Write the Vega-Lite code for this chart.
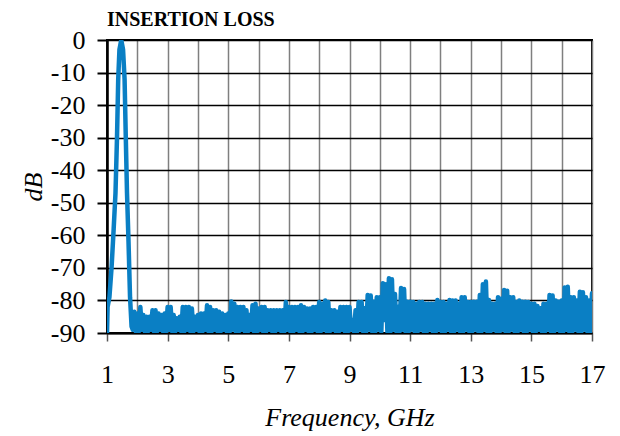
{
  "$schema": "https://vega.github.io/schema/vega-lite/v6.json",
  "width": 485,
  "height": 293,
  "autosize": "none",
  "padding": {"left": 107, "top": 40, "right": 28, "bottom": 103},
  "background": "white",
  "title": {
    "text": "INSERTION LOSS",
    "font": "Liberation Serif",
    "fontSize": 20,
    "fontWeight": "bold",
    "color": "black",
    "anchor": "start",
    "frame": "group",
    "offset": -3
  },
  "config": {
    "view": {"stroke": "black", "strokeWidth": 2},
    "axis": {
      "labelFont": "Liberation Serif",
      "titleFont": "Liberation Serif",
      "labelColor": "black",
      "titleColor": "black",
      "labelFontSize": 26,
      "titleFontSize": 26,
      "titleFontStyle": "italic",
      "titleFontWeight": "normal"
    }
  },
  "data": {
    "values": [
      {"f": 1.0, "v": -90}, {"f": 1.02, "v": -82}, {"f": 1.08, "v": -79}, {"f": 1.15, "v": -70},
      {"f": 1.22, "v": -58}, {"f": 1.28, "v": -47}, {"f": 1.33, "v": -30}, {"f": 1.37, "v": -12},
      {"f": 1.41, "v": -3}, {"f": 1.47, "v": 0}, {"f": 1.53, "v": -3}, {"f": 1.58, "v": -12},
      {"f": 1.62, "v": -30}, {"f": 1.66, "v": -47}, {"f": 1.71, "v": -62}, {"f": 1.76, "v": -79},
      {"f": 1.81, "v": -88},
      {"f": 1.85, "v": -89}, {"f": 1.9, "v": -83.5}, {"f": 1.95, "v": -89.5}, {"f": 2.0, "v": -84},
      {"f": 2.05, "v": -89.5}, {"f": 2.1, "v": -82}, {"f": 2.15, "v": -89}, {"f": 2.2, "v": -84.5},
      {"f": 2.25, "v": -89.5}, {"f": 2.3, "v": -85}, {"f": 2.35, "v": -89.5}, {"f": 2.4, "v": -85},
      {"f": 2.45, "v": -89}, {"f": 2.5, "v": -83}, {"f": 2.55, "v": -89.5}, {"f": 2.6, "v": -83},
      {"f": 2.65, "v": -89.5}, {"f": 2.7, "v": -84}, {"f": 2.75, "v": -89}, {"f": 2.8, "v": -84.5},
      {"f": 2.85, "v": -89.5}, {"f": 2.9, "v": -84}, {"f": 2.95, "v": -89.5}, {"f": 3.0, "v": -82},
      {"f": 3.05, "v": -89}, {"f": 3.1, "v": -82}, {"f": 3.15, "v": -89.5}, {"f": 3.2, "v": -84.5},
      {"f": 3.25, "v": -89.5}, {"f": 3.3, "v": -85.5}, {"f": 3.35, "v": -89}, {"f": 3.4, "v": -85},
      {"f": 3.45, "v": -89.5}, {"f": 3.5, "v": -82}, {"f": 3.55, "v": -89.5}, {"f": 3.6, "v": -82},
      {"f": 3.65, "v": -89}, {"f": 3.7, "v": -82}, {"f": 3.75, "v": -89.5}, {"f": 3.8, "v": -82.5},
      {"f": 3.85, "v": -89.5}, {"f": 3.9, "v": -85}, {"f": 3.95, "v": -89}, {"f": 4.0, "v": -84.5},
      {"f": 4.05, "v": -89.5}, {"f": 4.1, "v": -84}, {"f": 4.15, "v": -89.5}, {"f": 4.2, "v": -84},
      {"f": 4.25, "v": -89}, {"f": 4.3, "v": -81.5}, {"f": 4.35, "v": -89.5}, {"f": 4.4, "v": -82},
      {"f": 4.45, "v": -89.5}, {"f": 4.5, "v": -83}, {"f": 4.55, "v": -89}, {"f": 4.6, "v": -83},
      {"f": 4.65, "v": -89.5}, {"f": 4.7, "v": -83.5}, {"f": 4.75, "v": -89.5}, {"f": 4.8, "v": -84},
      {"f": 4.85, "v": -89}, {"f": 4.9, "v": -84.5}, {"f": 4.95, "v": -89.5}, {"f": 5.0, "v": -84},
      {"f": 5.05, "v": -89.5}, {"f": 5.1, "v": -80.3}, {"f": 5.15, "v": -89}, {"f": 5.2, "v": -81},
      {"f": 5.25, "v": -89.5}, {"f": 5.3, "v": -82}, {"f": 5.35, "v": -89.5}, {"f": 5.4, "v": -82},
      {"f": 5.45, "v": -89}, {"f": 5.5, "v": -82}, {"f": 5.55, "v": -89.5}, {"f": 5.6, "v": -83},
      {"f": 5.65, "v": -89.5}, {"f": 5.7, "v": -84.5}, {"f": 5.75, "v": -89}, {"f": 5.8, "v": -81.5},
      {"f": 5.85, "v": -89.5}, {"f": 5.9, "v": -81}, {"f": 5.95, "v": -89.5}, {"f": 6.0, "v": -82.5},
      {"f": 6.05, "v": -89}, {"f": 6.1, "v": -82}, {"f": 6.15, "v": -89.5}, {"f": 6.2, "v": -82},
      {"f": 6.25, "v": -89.5}, {"f": 6.3, "v": -83}, {"f": 6.35, "v": -89}, {"f": 6.4, "v": -83},
      {"f": 6.45, "v": -89.5}, {"f": 6.5, "v": -83}, {"f": 6.55, "v": -89.5}, {"f": 6.6, "v": -83},
      {"f": 6.65, "v": -89}, {"f": 6.7, "v": -83}, {"f": 6.75, "v": -89.5}, {"f": 6.8, "v": -83},
      {"f": 6.85, "v": -89.5}, {"f": 6.9, "v": -80.5}, {"f": 6.95, "v": -89}, {"f": 7.0, "v": -82},
      {"f": 7.05, "v": -89.5}, {"f": 7.1, "v": -82}, {"f": 7.15, "v": -89.5}, {"f": 7.2, "v": -82},
      {"f": 7.25, "v": -89}, {"f": 7.3, "v": -82}, {"f": 7.35, "v": -89.5}, {"f": 7.4, "v": -81.5},
      {"f": 7.45, "v": -89.5}, {"f": 7.5, "v": -82}, {"f": 7.55, "v": -89}, {"f": 7.6, "v": -82.5},
      {"f": 7.65, "v": -89.5}, {"f": 7.7, "v": -82.5}, {"f": 7.75, "v": -89.5}, {"f": 7.8, "v": -82},
      {"f": 7.85, "v": -89}, {"f": 7.9, "v": -82}, {"f": 7.95, "v": -89.5}, {"f": 8.0, "v": -80.5},
      {"f": 8.05, "v": -89.5}, {"f": 8.1, "v": -81}, {"f": 8.15, "v": -89}, {"f": 8.2, "v": -80},
      {"f": 8.25, "v": -89.5}, {"f": 8.3, "v": -80.5}, {"f": 8.35, "v": -89.5}, {"f": 8.4, "v": -83},
      {"f": 8.45, "v": -89}, {"f": 8.5, "v": -83}, {"f": 8.55, "v": -89.5}, {"f": 8.6, "v": -83.5},
      {"f": 8.65, "v": -89.5}, {"f": 8.7, "v": -82}, {"f": 8.75, "v": -89}, {"f": 8.8, "v": -82},
      {"f": 8.85, "v": -89.5}, {"f": 8.9, "v": -82}, {"f": 8.95, "v": -89.5}, {"f": 9.0, "v": -82},
      {"f": 9.05, "v": -89}, {"f": 9.1, "v": -86}, {"f": 9.15, "v": -89.5}, {"f": 9.2, "v": -83},
      {"f": 9.25, "v": -89.5}, {"f": 9.3, "v": -80.5}, {"f": 9.35, "v": -89}, {"f": 9.4, "v": -80.5},
      {"f": 9.45, "v": -89.5}, {"f": 9.5, "v": -82.4}, {"f": 9.55, "v": -89.5}, {"f": 9.6, "v": -78.3},
      {"f": 9.65, "v": -89}, {"f": 9.7, "v": -78.5}, {"f": 9.75, "v": -89.5}, {"f": 9.8, "v": -80.4},
      {"f": 9.85, "v": -89.5}, {"f": 9.9, "v": -79}, {"f": 9.95, "v": -89}, {"f": 10.0, "v": -79},
      {"f": 10.05, "v": -89.5}, {"f": 10.1, "v": -74.7}, {"f": 10.15, "v": -86}, {"f": 10.2, "v": -75},
      {"f": 10.25, "v": -89.5}, {"f": 10.3, "v": -73.2}, {"f": 10.35, "v": -89.5}, {"f": 10.4, "v": -73.5},
      {"f": 10.45, "v": -89}, {"f": 10.5, "v": -78}, {"f": 10.55, "v": -89.5}, {"f": 10.6, "v": -82},
      {"f": 10.65, "v": -89.5}, {"f": 10.7, "v": -76.2}, {"f": 10.75, "v": -89}, {"f": 10.8, "v": -76.5},
      {"f": 10.85, "v": -89.5}, {"f": 10.9, "v": -80.4}, {"f": 10.95, "v": -89.5}, {"f": 11.0, "v": -80.4},
      {"f": 11.05, "v": -89}, {"f": 11.1, "v": -80.5}, {"f": 11.15, "v": -89.5}, {"f": 11.2, "v": -81},
      {"f": 11.25, "v": -89.5}, {"f": 11.3, "v": -80.5}, {"f": 11.35, "v": -89}, {"f": 11.4, "v": -80.5},
      {"f": 11.45, "v": -89.5}, {"f": 11.5, "v": -81}, {"f": 11.55, "v": -89.5}, {"f": 11.6, "v": -81},
      {"f": 11.65, "v": -89}, {"f": 11.7, "v": -81}, {"f": 11.75, "v": -89.5}, {"f": 11.8, "v": -81},
      {"f": 11.85, "v": -89.5}, {"f": 11.9, "v": -79.9}, {"f": 11.95, "v": -89}, {"f": 12.0, "v": -80.5},
      {"f": 12.05, "v": -89.5}, {"f": 12.1, "v": -80.5}, {"f": 12.15, "v": -89.5}, {"f": 12.2, "v": -81},
      {"f": 12.25, "v": -89}, {"f": 12.3, "v": -79.9}, {"f": 12.35, "v": -89.5}, {"f": 12.4, "v": -80},
      {"f": 12.45, "v": -89.5}, {"f": 12.5, "v": -80}, {"f": 12.55, "v": -89}, {"f": 12.6, "v": -81},
      {"f": 12.65, "v": -89.5}, {"f": 12.7, "v": -79}, {"f": 12.75, "v": -89.5}, {"f": 12.8, "v": -79},
      {"f": 12.85, "v": -89}, {"f": 12.9, "v": -80.5}, {"f": 12.95, "v": -89.5}, {"f": 13.0, "v": -80.5},
      {"f": 13.05, "v": -89.5}, {"f": 13.1, "v": -80.4}, {"f": 13.15, "v": -89}, {"f": 13.2, "v": -80.4},
      {"f": 13.25, "v": -89.5}, {"f": 13.3, "v": -78.3}, {"f": 13.35, "v": -89.5}, {"f": 13.4, "v": -75},
      {"f": 13.45, "v": -89}, {"f": 13.5, "v": -74.2}, {"f": 13.55, "v": -89.5}, {"f": 13.6, "v": -79.9},
      {"f": 13.65, "v": -89.5}, {"f": 13.7, "v": -81}, {"f": 13.75, "v": -89}, {"f": 13.8, "v": -81},
      {"f": 13.85, "v": -89.5}, {"f": 13.9, "v": -79}, {"f": 13.95, "v": -89.5}, {"f": 14.0, "v": -79.5},
      {"f": 14.05, "v": -89}, {"f": 14.1, "v": -76.8}, {"f": 14.15, "v": -89.5}, {"f": 14.2, "v": -77},
      {"f": 14.25, "v": -89.5}, {"f": 14.3, "v": -79}, {"f": 14.35, "v": -89}, {"f": 14.4, "v": -79},
      {"f": 14.45, "v": -89.5}, {"f": 14.5, "v": -80.5}, {"f": 14.55, "v": -89.5}, {"f": 14.6, "v": -80},
      {"f": 14.65, "v": -89}, {"f": 14.7, "v": -80.4}, {"f": 14.75, "v": -89.5}, {"f": 14.8, "v": -80.4},
      {"f": 14.85, "v": -89.5}, {"f": 14.9, "v": -80.5}, {"f": 14.95, "v": -89}, {"f": 15.0, "v": -81},
      {"f": 15.05, "v": -89.5}, {"f": 15.1, "v": -81}, {"f": 15.15, "v": -89.5}, {"f": 15.2, "v": -81.7},
      {"f": 15.25, "v": -89}, {"f": 15.3, "v": -82.4}, {"f": 15.35, "v": -89.5}, {"f": 15.4, "v": -81},
      {"f": 15.45, "v": -89.5}, {"f": 15.5, "v": -81}, {"f": 15.55, "v": -89}, {"f": 15.6, "v": -78.3},
      {"f": 15.65, "v": -89.5}, {"f": 15.7, "v": -78.5}, {"f": 15.75, "v": -89.5}, {"f": 15.8, "v": -80},
      {"f": 15.85, "v": -89}, {"f": 15.9, "v": -80.4}, {"f": 15.95, "v": -89.5}, {"f": 16.0, "v": -80},
      {"f": 16.05, "v": -89.5}, {"f": 16.1, "v": -76}, {"f": 16.15, "v": -89}, {"f": 16.2, "v": -75.8},
      {"f": 16.25, "v": -89.5}, {"f": 16.3, "v": -79}, {"f": 16.35, "v": -89.5}, {"f": 16.4, "v": -79},
      {"f": 16.45, "v": -89}, {"f": 16.5, "v": -80}, {"f": 16.55, "v": -89.5}, {"f": 16.6, "v": -77.3},
      {"f": 16.65, "v": -89.5}, {"f": 16.7, "v": -77.5}, {"f": 16.75, "v": -89}, {"f": 16.8, "v": -79},
      {"f": 16.85, "v": -89.5}, {"f": 16.9, "v": -80}, {"f": 16.95, "v": -89.5}, {"f": 17.0, "v": -77.8}
    ]
  },
  "mark": {
    "type": "line",
    "color": "#0a7fc4",
    "strokeWidth": 4.5,
    "strokeJoin": "round",
    "strokeCap": "round",
    "clip": true
  },
  "encoding": {
    "x": {
      "field": "f",
      "type": "quantitative",
      "scale": {"domain": [1, 17], "nice": false, "zero": false},
      "axis": {
        "title": "Frequency, GHz",
        "values": [1, 2, 3, 4, 5, 6, 7, 8, 9, 10, 11, 12, 13, 14, 15, 16, 17],
        "labelExpr": "datum.value % 2 === 1 ? datum.label : ''",
        "labelOverlap": false,
        "labelFlush": false,
        "grid": true,
        "gridColor": "#7f7f7f",
        "gridWidth": 1.5,
        "gridOpacity": 1,
        "domainColor": "black",
        "domainWidth": 2,
        "tickColor": "#555555",
        "tickWidth": 1.5,
        "tickSize": 8,
        "tickOpacity": {"condition": {"test": "datum.value % 2 === 0", "value": 0}, "value": 1},
        "labelPadding": 20,
        "titlePadding": 17
      }
    },
    "y": {
      "field": "v",
      "type": "quantitative",
      "scale": {"domain": [-90, 0], "nice": false, "zero": false},
      "axis": {
        "title": "dB",
        "values": [-90, -80, -70, -60, -50, -40, -30, -20, -10, 0],
        "labelExpr": "'' + datum.value",
        "labelOverlap": false,
        "labelFlush": false,
        "grid": true,
        "gridColor": "black",
        "gridWidth": 1.5,
        "gridOpacity": 1,
        "domainColor": "black",
        "domainWidth": 2.5,
        "tickColor": "black",
        "tickWidth": 2,
        "tickSize": 10,
        "labelPadding": 12,
        "titlePadding": 4
      }
    }
  }
}
